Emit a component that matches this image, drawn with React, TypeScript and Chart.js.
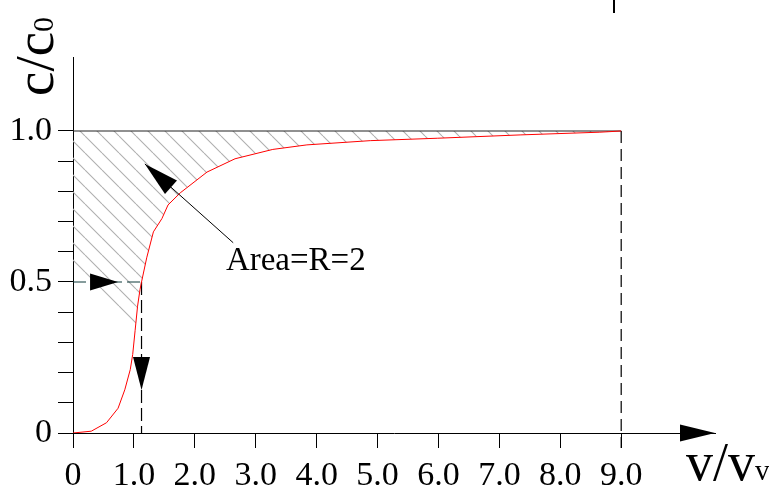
import React, { useEffect, useRef } from 'react';
import { Chart, registerables } from 'chart.js';

Chart.register(...registerables);

// ---- data ----
const curveX = [0, 0.3, 0.55, 0.74, 0.85, 0.94, 0.98, 1.02, 1.06, 1.1, 1.125, 1.21, 1.32, 1.46, 1.56, 1.76, 2.2, 2.66, 3.28, 3.84, 4.88, 5.98, 7.34, 8.65, 9.0];
const curveY = [0, 0.006, 0.034, 0.082, 0.143, 0.21, 0.26, 0.34, 0.42, 0.475, 0.5, 0.58, 0.666, 0.71, 0.755, 0.795, 0.864, 0.908, 0.939, 0.954, 0.968, 0.976, 0.987, 0.996, 1.0];

// lower edge of the hatched area on the left (diagonal cut), then it follows the curve
const hatchCutX = [0, 1.02];
const hatchCutY = [0.546, 0.34];

const xTickValues = [0, 1, 2, 3, 4, 5, 6, 7, 8, 9];
const xTickLabels = ['0', '1.0', '2.0', '3.0', '4.0', '5.0', '6.0', '7.0', '8.0', '9.0'];
const yTickValues = [0, 0.1, 0.2, 0.3, 0.4, 0.5, 0.6, 0.7, 0.8, 0.9, 1.0];
const yTickLabels = ['0', '', '', '', '', '0.5', '', '', '', '', '1.0'];

const xMin = 0;
const xMax = 10.54;
const yMin = 0;
const yMax = 1.245;

const halfLevel = 0.5;
const halfX = 1.125;
const endX = 9;
const topLevel = 1.0;

const areaLabel = 'Area=R=2';
const areaLabelPos = { x: 2.51, y: 0.54 };
const areaArrowTail = { x: 2.63, y: 0.63 };
const areaArrowTip = { x: 1.18, y: 0.891 };
const halfArrowTip = { x: 0.74, y: 0.5 };
const downArrowTip = { x: 1.125, y: 0.142 };

const yTitleMain = 'c/c';
const yTitleSub = '0';
const xTitleMain = 'v/v';
const xTitleSub = 'v';

const SERIF = "'Liberation Serif', 'Times New Roman', serif";

function arrowHead(ctx: CanvasRenderingContext2D, tx: number, ty: number, fx: number, fy: number, len: number, half: number) {
  const dx = fx - tx;
  const dy = fy - ty;
  const d = Math.hypot(dx, dy) || 1;
  const ux = dx / d;
  const uy = dy / d;
  const bx = tx + ux * len;
  const by = ty + uy * len;
  ctx.beginPath();
  ctx.moveTo(tx, ty);
  ctx.lineTo(bx - uy * half, by + ux * half);
  ctx.lineTo(bx + uy * half, by - ux * half);
  ctx.closePath();
  ctx.fill();
}

const annotations = {
  id: 'annotations',
  afterDraw(chart: any) {
    const ctx: CanvasRenderingContext2D = chart.ctx;
    const xs = chart.scales.x;
    const ys = chart.scales.y;
    const px = (v: number) => xs.getPixelForValue(v);
    const py = (v: number) => ys.getPixelForValue(v);
    const ca = chart.chartArea;
    ctx.save();
    ctx.fillStyle = '#000';
    ctx.strokeStyle = '#000';

    // x-axis arrow
    arrowHead(ctx, ca.right, py(0), ca.right - 10, py(0), 35, 8.5);

    // arrow on the 0.5 dashed line
    arrowHead(ctx, px(halfArrowTip.x), py(halfArrowTip.y), px(0), py(halfArrowTip.y), 28, 8.5);

    // downward arrow on the vertical dashed line
    arrowHead(ctx, px(downArrowTip.x), py(downArrowTip.y), px(downArrowTip.x), py(halfLevel), 33, 8.5);

    // area arrow
    const tx = px(areaArrowTip.x), ty = py(areaArrowTip.y);
    const fx = px(areaArrowTail.x), fy = py(areaArrowTail.y);
    ctx.lineWidth = 1;
    ctx.beginPath();
    ctx.moveTo(fx, fy);
    ctx.lineTo(tx, ty);
    ctx.stroke();
    arrowHead(ctx, tx, ty, fx, fy, 35, 9);

    // area label
    ctx.font = `33px ${SERIF}`;
    ctx.textAlign = 'left';
    ctx.textBaseline = 'alphabetic';
    ctx.fillText(areaLabel, px(areaLabelPos.x), py(areaLabelPos.y));

    // x title
    ctx.font = `54px ${SERIF}`;
    const xtX = 686;
    const xtY = 480;
    ctx.fillText(xTitleMain, xtX, xtY);
    const wMain = ctx.measureText(xTitleMain).width;
    ctx.font = `29px ${SERIF}`;
    ctx.fillText(xTitleSub, xtX + wMain, xtY);

    // y title (rotated)
    ctx.save();
    ctx.translate(53, 96);
    ctx.rotate(-Math.PI / 2);
    ctx.font = `55px ${SERIF}`;
    ctx.fillText(yTitleMain, 0, 0);
    const wy = ctx.measureText(yTitleMain).width;
    ctx.font = `30px ${SERIF}`;
    ctx.fillText(yTitleSub, wy, 0);
    ctx.restore();

    // small stray mark at the top
    ctx.lineWidth = 2;
    ctx.beginPath();
    ctx.moveTo(614, 0);
    ctx.lineTo(614, 13);
    ctx.stroke();

    ctx.restore();
  },
};

export default function App() {
  const ref = useRef<HTMLCanvasElement | null>(null);

  useEffect(() => {
    const canvas = ref.current;
    if (!canvas) return;

    const pc = document.createElement('canvas');
    pc.width = 17;
    pc.height = 17;
    const pctx = pc.getContext('2d')!;
    pctx.strokeStyle = '#b0b0b0';
    pctx.lineWidth = 1.1;
    pctx.beginPath();
    for (const k of [-1, 0, 1]) {
      pctx.moveTo(k * 17, 0);
      pctx.lineTo(k * 17 + 17, 17);
    }
    pctx.stroke();
    const pattern = canvas.getContext('2d')!.createPattern(pc, 'repeat');

    const curve = curveX.map((x, i) => ({ x, y: curveY[i] }));
    const boundary = [
      ...hatchCutX.map((x, i) => ({ x, y: hatchCutY[i] })),
      ...curve.filter((p) => p.x > hatchCutX[hatchCutX.length - 1]),
    ];

    const chart = new Chart(canvas, {
      type: 'line',
      data: {
        datasets: [
          {
            data: curve,
            borderColor: '#ff0000',
            borderWidth: 1,
            pointRadius: 0,
            tension: 0,
            fill: false,
          },
          {
            data: [{ x: 0, y: halfLevel }, { x: halfX, y: halfLevel }],
            borderColor: '#0f3a3a',
            borderWidth: 1.2,
            borderDash: [13, 5],
            pointRadius: 0,
            fill: false,
          },
          {
            data: [{ x: halfX, y: halfLevel }, { x: halfX, y: 0 }],
            borderColor: '#000',
            borderWidth: 1.2,
            borderDash: [13, 5],
            pointRadius: 0,
            fill: false,
          },
          {
            data: [{ x: endX, y: topLevel }, { x: endX, y: -0.05 }],
            borderColor: '#000',
            borderWidth: 1.2,
            borderDash: [12, 6],
            pointRadius: 0,
            fill: false,
            clip: false,
          },
          {
            data: [{ x: 0, y: topLevel }, { x: endX, y: topLevel }],
            borderColor: '#222',
            borderWidth: 1.2,
            pointRadius: 0,
            fill: false,
          },
          {
            data: boundary,
            borderColor: 'rgba(0,0,0,0)',
            borderWidth: 0,
            pointRadius: 0,
            backgroundColor: pattern as any,
            fill: { value: topLevel },
          },
        ],
      } as any,
      options: {
        animation: false,
        responsive: false,
        events: [],
        layout: { padding: { top: 57, right: 54, left: 0, bottom: 0 } },
        plugins: { legend: { display: false }, tooltip: { enabled: false } },
        scales: {
          x: {
            type: 'linear',
            min: xMin,
            max: xMax,
            afterBuildTicks: (scale: any) => {
              scale.ticks = xTickValues.map((v) => ({ value: v }));
            },
            afterFit: (scale: any) => {
              scale.height = 53;
            },
            ticks: {
              autoSkip: false,
              maxRotation: 0,
              padding: 8,
              color: '#000',
              font: { family: SERIF, size: 34 },
              callback: (_v: any, i: number) => xTickLabels[i],
            },
            grid: { drawOnChartArea: false, drawTicks: true, tickLength: 15, color: '#000', lineWidth: 1 },
            border: { display: true, color: '#000', width: 1 },
          },
          y: {
            type: 'linear',
            min: yMin,
            max: yMax,
            afterBuildTicks: (scale: any) => {
              scale.ticks = yTickValues.map((v) => ({ value: v }));
            },
            afterFit: (scale: any) => {
              scale.width = 73;
            },
            ticks: {
              autoSkip: false,
              padding: 6,
              color: '#000',
              font: { family: SERIF, size: 34 },
              callback: (_v: any, i: number) => yTickLabels[i],
            },
            grid: { drawOnChartArea: false, drawTicks: true, tickLength: 15, color: '#000', lineWidth: 1 },
            border: { display: true, color: '#000', width: 1 },
          },
        },
      } as any,
      plugins: [annotations],
    });

    return () => chart.destroy();
  }, []);

  return (
    <div style={{ position: 'fixed', left: 0, top: 0, width: 769, height: 486, background: '#fff' }}>
      <canvas ref={ref} width={769} height={486} style={{ display: 'block' }} />
    </div>
  );
}
